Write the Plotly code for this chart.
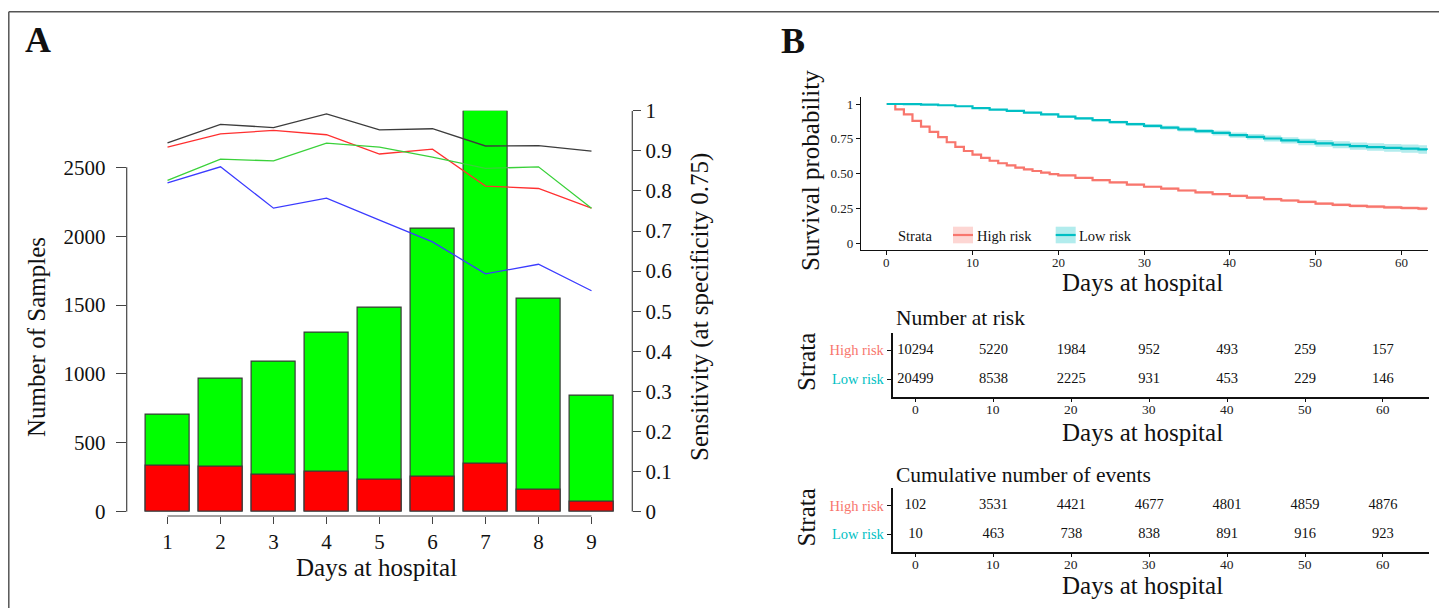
import plotly.graph_objects as go

# ---------------- Panel A data ----------------
days_a = [1, 2, 3, 4, 5, 6, 7, 8, 9]
total_samples = [706, 964, 1087, 1300, 1481, 2058, 2911, 1544, 843]
positive_samples = [336, 329, 271, 288, 235, 254, 346, 162, 72]
sens_black = [0.920, 0.966, 0.958, 0.992, 0.952, 0.955, 0.912, 0.913, 0.899]
sens_red = [0.909, 0.942, 0.951, 0.940, 0.892, 0.904, 0.812, 0.806, 0.757]
sens_green = [0.826, 0.879, 0.875, 0.919, 0.909, 0.884, 0.856, 0.860, 0.757]
sens_blue = [0.820, 0.860, 0.757, 0.782, 0.727, 0.673, 0.593, 0.617, 0.551]
left_ticks = [0, 500, 1000, 1500, 2000, 2500]
right_ticks = [0, 0.1, 0.2, 0.3, 0.4, 0.5, 0.6, 0.7, 0.8, 0.9, 1]
right_ticktext = ["0", "0.1", "0.2", "0.3", "0.4", "0.5", "0.6", "0.7", "0.8", "0.9", "1"]

# ---------------- Panel B data ----------------
days_hi = list(range(0, 21)) + list(range(22, 63, 2)) + [63]
surv_hi = [1.000, 0.962, 0.926, 0.878, 0.838, 0.800, 0.762, 0.725, 0.692, 0.662, 0.636,
           0.612, 0.592, 0.574, 0.558, 0.543, 0.530, 0.518, 0.506, 0.496, 0.486,
           0.468, 0.452, 0.436, 0.420, 0.405, 0.391, 0.378, 0.365, 0.352, 0.339,
           0.327, 0.316, 0.306, 0.296, 0.283, 0.275, 0.267, 0.262, 0.257, 0.252, 0.248,
           0.247]
ci_hi = [0.000, 0.002, 0.003, 0.003, 0.004, 0.004, 0.004, 0.005, 0.005, 0.005, 0.005,
         0.005, 0.005, 0.006, 0.006, 0.006, 0.006, 0.006, 0.006, 0.006, 0.006,
         0.006, 0.007, 0.007, 0.007, 0.007, 0.008, 0.008, 0.008, 0.008, 0.009,
         0.009, 0.009, 0.010, 0.010, 0.010, 0.011, 0.011, 0.012, 0.012, 0.013, 0.013,
         0.013]
days_lo = list(range(0, 63, 2)) + [63]
surv_lo = [1.000, 0.999, 0.996, 0.991, 0.984, 0.970, 0.960, 0.950, 0.938, 0.925, 0.909,
           0.897, 0.884, 0.870, 0.855, 0.842, 0.830, 0.818, 0.805, 0.792, 0.776,
           0.764, 0.752, 0.738, 0.727, 0.717, 0.707, 0.697, 0.690, 0.684, 0.679,
           0.673, 0.669]
ci_lo = [0.000, 0.001, 0.001, 0.002, 0.002, 0.003, 0.004, 0.004, 0.005, 0.006, 0.007,
         0.008, 0.009, 0.010, 0.011, 0.013, 0.014, 0.015, 0.016, 0.018, 0.019,
         0.020, 0.021, 0.022, 0.023, 0.024, 0.025, 0.026, 0.027, 0.028, 0.029,
         0.030, 0.030]
km_yticks = [0, 0.25, 0.5, 0.75, 1]
km_yticktext = ["0", "0.25", "0.50", "0.75", "1"]
table_days = [0, 10, 20, 30, 40, 50, 60]
risk_high = [10294, 5220, 1984, 952, 493, 259, 157]
risk_low = [20499, 8538, 2225, 931, 453, 229, 146]
events_high = [102, 3531, 4421, 4677, 4801, 4859, 4876]
events_low = [10, 463, 738, 838, 891, 916, 923]
strata = ["High risk", "Low risk"]

HI_COL = "#F8766D"
LO_COL = "#00BFC4"
SERIF = "Liberation Serif, Times New Roman, serif"
# page body has an 8px margin: the figure starts at (8, 8) of the window
OFF = 8
W, H = 1447 - OFF, 608 - OFF


def px(x):
    return (x - OFF) / W


def py(y):
    return 1 - (y - OFF) / H


fig = go.Figure()

# ---------- Panel A ----------
fig.add_trace(go.Bar(x=days_a, y=total_samples, width=1 / 1.2, marker_color="#00FF00",
                     marker_line=dict(color="#3a3a3a", width=1.2), xaxis="x", yaxis="y",
                     showlegend=False))
fig.add_trace(go.Bar(x=days_a, y=positive_samples, width=1 / 1.2, marker_color="#FF0000",
                     marker_line=dict(color="#3a3a3a", width=1.2), xaxis="x", yaxis="y",
                     showlegend=False))
for vals, col in [(sens_black, "#3c3c3c"), (sens_red, "#ff3030"),
                  (sens_green, "#3ad13a"), (sens_blue, "#3b3bff")]:
    fig.add_trace(go.Scatter(x=days_a, y=vals, mode="lines", line=dict(color=col, width=1.3),
                             xaxis="x", yaxis="y2", showlegend=False))

# ---------- Panel B: KM ----------
for d, s, c, col, fillc in [(days_hi, surv_hi, ci_hi, HI_COL, "rgba(248,118,109,0.3)"),
                            (days_lo, surv_lo, ci_lo, LO_COL, "rgba(0,191,196,0.3)")]:
    upper = [a + b for a, b in zip(s, c)]
    lower = [a - b for a, b in zip(s, c)]
    fig.add_trace(go.Scatter(x=d, y=upper, mode="lines", line=dict(width=0, shape="hv"),
                             xaxis="x3", yaxis="y3", showlegend=False, hoverinfo="skip"))
    fig.add_trace(go.Scatter(x=d, y=lower, mode="lines", line=dict(width=0, shape="hv"),
                             fill="tonexty", fillcolor=fillc,
                             xaxis="x3", yaxis="y3", showlegend=False, hoverinfo="skip"))
    fig.add_trace(go.Scatter(x=d, y=s, mode="lines", line=dict(color=col, width=2.2, shape="hv"),
                             xaxis="x3", yaxis="y3", showlegend=False))

# ---------- Tables ----------
for xa, ya, hi, lo in [("x4", "y4", risk_high, risk_low), ("x5", "y5", events_high, events_low)]:
    fig.add_trace(go.Scatter(x=table_days, y=[2] * len(table_days), mode="text",
                             text=[str(v) for v in hi], textfont=dict(family=SERIF, size=14.5, color="#111"),
                             xaxis=xa, yaxis=ya, showlegend=False))
    fig.add_trace(go.Scatter(x=table_days, y=[1] * len(table_days), mode="text",
                             text=[str(v) for v in lo], textfont=dict(family=SERIF, size=14.5, color="#111"),
                             xaxis=xa, yaxis=ya, showlegend=False))

# ---------- Layout ----------
A_dom_x = [px(126.7), px(632.3)]
A_dom_y = [py(511.7), py(110.7)]
A_xaxis_pos = py(516)
tickfontA = dict(family=SERIF, size=21, color="#111")

km_dom_x = [px(861), px(1427.7)]
km_dom_y = [py(250), py(97.05)]
tb_dom_x = [px(892.5), px(1429.3)]
tb1_dom_y = [py(396.7), py(333)]
tb2_dom_y = [py(551.7), py(488.3)]
tickfontB = dict(family=SERIF, size=13, color="#222")

strata_ticktext = ['<span style="color:%s">%s</span>' % (HI_COL, strata[0]),
                   '<span style="color:%s">%s</span>' % (LO_COL, strata[1])]

common = dict(automargin=False, showgrid=False, zeroline=False)

fig.update_layout(
    template="none",
    width=W, height=H, autosize=False,
    margin=dict(l=0, r=0, t=0, b=0, pad=0),
    paper_bgcolor="white", plot_bgcolor="rgba(0,0,0,0)",
    barmode="overlay", bargap=0, showlegend=False,
    font=dict(family=SERIF, color="#111"),
    xaxis=dict(domain=A_dom_x, range=[0.23, 9.77], anchor="free", position=A_xaxis_pos,
               tickvals=days_a, ticks="outside", ticklen=7, tickcolor="#444", tickwidth=1.2,
               showline=False, tickfont=tickfontA, **common),
    yaxis=dict(domain=A_dom_y, range=[0, max(total_samples)], anchor="x",
               tickvals=left_ticks, ticktext=[str(v) for v in left_ticks],
               ticks="outside", ticklen=10, tickcolor="#444", tickwidth=1.2,
               ticklabelstandoff=6, showline=False, tickfont=tickfontA, **common),
    yaxis2=dict(domain=A_dom_y, range=[0, 1], overlaying="y", side="right", anchor="x",
                tickvals=right_ticks, ticktext=right_ticktext,
                ticks="outside", ticklen=8, tickcolor="#444", tickwidth=1.2,
                showline=False, tickfont=tickfontA, **common),
    xaxis3=dict(domain=km_dom_x, range=[-3.0, 63.08], anchor="y3",
                tickvals=table_days, ticks="outside", ticklen=4, tickcolor="#111",
                showticklabels=False,
                showline=True, linecolor="#111", linewidth=1.3, **common),
    yaxis3=dict(domain=km_dom_y, range=[-0.05, 1.05], anchor="x3",
                tickvals=km_yticks, ticktext=km_yticktext, ticks="outside", ticklen=4, tickcolor="#111",
                showline=True, linecolor="#111", linewidth=1.3, tickfont=tickfontB, **common),
    xaxis4=dict(domain=tb_dom_x, range=[-2.95, 65.95], anchor="y4",
                tickvals=table_days, ticks="outside", ticklen=4, tickcolor="#111",
                showticklabels=False,
                showline=True, linecolor="#111", linewidth=1.5, **common),
    yaxis4=dict(domain=tb1_dom_y, range=[0.4, 2.6], anchor="x4",
                tickvals=[2, 1], ticktext=strata_ticktext, ticks="outside", ticklen=4, tickcolor="#111",
                showline=True, linecolor="#111", linewidth=1.5,
                tickfont=dict(family=SERIF, size=14.5), **common),
    xaxis5=dict(domain=tb_dom_x, range=[-2.95, 65.95], anchor="y5",
                tickvals=table_days, ticks="outside", ticklen=4, tickcolor="#111",
                showticklabels=False,
                showline=True, linecolor="#111", linewidth=1.5, **common),
    yaxis5=dict(domain=tb2_dom_y, range=[0.4, 2.6], anchor="x5",
                tickvals=[2, 1], ticktext=strata_ticktext, ticks="outside", ticklen=4, tickcolor="#111",
                showline=True, linecolor="#111", linewidth=1.5,
                tickfont=dict(family=SERIF, size=14.5), **common),
)

shapes = []
# R-style axis lines for panel A (span tick range only)
shapes.append(dict(type="line", xref="paper", yref="y", x0=A_dom_x[0], x1=A_dom_x[0],
                   y0=min(left_ticks), y1=max(left_ticks), line=dict(color="#444", width=1.2)))
shapes.append(dict(type="line", xref="paper", yref="y2", x0=A_dom_x[1], x1=A_dom_x[1],
                   y0=min(right_ticks), y1=max(right_ticks), line=dict(color="#444", width=1.2)))
shapes.append(dict(type="line", xref="x", yref="paper", x0=min(days_a), x1=max(days_a),
                   y0=A_xaxis_pos, y1=A_xaxis_pos, line=dict(color="#444", width=1.2)))
# Outer frame (open at bottom)
for (x0, y0, x1, y1) in [(8.8, 11.7, 1442.5, 11.7), (8.8, 11.7, 8.8, 608), (1442.5, 11.7, 1442.5, 608)]:
    shapes.append(dict(type="line", xref="paper", yref="paper", x0=px(x0), x1=px(x1),
                       y0=py(y0), y1=py(y1), line=dict(color="#555", width=1.5)))
# KM legend keys
for (kx0, kx1, fillc, col) in [(953, 973, "rgba(248,118,109,0.3)", HI_COL),
                                (1055.7, 1075.7, "rgba(0,191,196,0.3)", LO_COL)]:
    shapes.append(dict(type="rect", xref="paper", yref="paper", x0=px(kx0), x1=px(kx1),
                       y0=py(243.3), y1=py(226.7), fillcolor=fillc, line=dict(width=0)))
    shapes.append(dict(type="line", xref="paper", yref="paper", x0=px(kx0), x1=px(kx1),
                       y0=py(235), y1=py(235), line=dict(color=col, width=2.2)))
fig.update_layout(shapes=shapes)

ann = []


def add_text(text, x, y, size, angle=0, xanchor="center", bold=False, color="#111"):
    ann.append(dict(text=("<b>%s</b>" % text) if bold else text, x=px(x), y=py(y),
                    xref="paper", yref="paper", showarrow=False, xanchor=xanchor, yanchor="middle",
                    textangle=angle, font=dict(family=SERIF, size=size, color=color)))


# x tick labels of the KM plot and the two tables (placed through the axes' own scales)
for xref, ylab, size in [("x3", 262, 13), ("x4", 409, 13.5), ("x5", 564, 13.5)]:
    for d in table_days:
        ann.append(dict(text=str(d), x=d, xref=xref, y=py(ylab), yref="paper",
                        showarrow=False, xanchor="center", yanchor="middle",
                        font=dict(family=SERIF, size=size, color="#222")))

add_text("A", 38, 40, 36, bold=True)
add_text("B", 793, 41, 36, bold=True)
add_text("Number of Samples", 36, 337, 25, angle=-90)
add_text("Sensitivity (at specificity 0.75)", 700, 307, 25, angle=-90)
add_text("Days at hospital", 376, 567, 25)
add_text("Survival probability", 810, 171, 25, angle=-90)
add_text("Days at hospital", 1142, 283, 25)
add_text("Strata", 896, 235.7, 14.5, xanchor="left")
add_text("High risk", 975, 235.7, 14.5, xanchor="left")
add_text("Low risk", 1077.3, 235.7, 14.5, xanchor="left")
add_text("Number at risk", 894, 318, 21.5, xanchor="left")
add_text("Strata", 806, 362, 25, angle=-90)
add_text("Days at hospital", 1142, 432, 25)
add_text("Cumulative number of events", 894, 475, 21.5, xanchor="left")
add_text("Strata", 806, 517.5, 25, angle=-90)
add_text("Days at hospital", 1142, 585, 25)
fig.update_layout(annotations=ann)

fig.write_html("out.html")
